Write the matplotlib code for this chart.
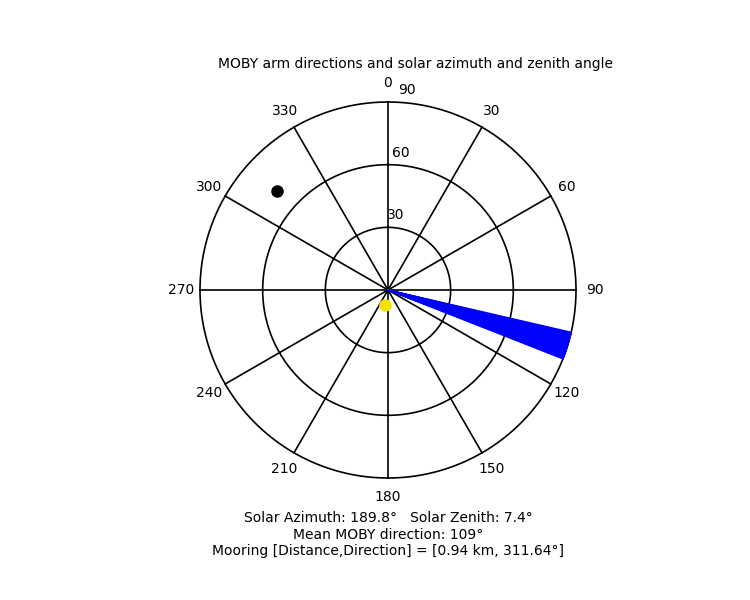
import numpy as np
import matplotlib
matplotlib.use("Agg")
import matplotlib.pyplot as plt

arm_dirs = list(np.arange(103, 111.6, 0.25))
sun_az, sun_zen = 189.8, 7.4
moor_dir, moor_r = 311.64, 71
ring_vals = [30, 60, 90]
spoke_angles = list(range(0, 360, 30))

fig = plt.figure(figsize=(7.5, 6), dpi=100)
cx, cy, R = 388/750, 1-290/600, 188
ax = fig.add_axes([cx-R/750, cy-R/600, 2*R/750, 2*R/600], projection='polar')
ax.set_theta_zero_location('N'); ax.set_theta_direction(-1)
ax.set_ylim(0, 90); ax.grid(False); ax.set_xticks([]); ax.set_yticks([])
ax.spines['polar'].set_visible(False)
th = np.linspace(0, 2*np.pi, 400)
for r in ring_vals:
    ax.plot(th, np.full_like(th, r), color='k', lw=1.2, clip_on=False)
for a in spoke_angles:
    ax.plot([np.deg2rad(a)]*2, [0, 90], color='k', lw=1.2, clip_on=False)
    ax.text(np.deg2rad(a), 99, str(a), ha='center', va='center', fontsize=10)
for r in ring_vals:
    ax.text(np.deg2rad(5.5), r+6, str(r), ha='center', va='center', fontsize=10)
for d in arm_dirs:
    ax.plot([np.deg2rad(d)]*2, [0, 90], color='blue', lw=1, clip_on=False)
ax.plot(np.deg2rad(moor_dir), moor_r, 'o', color='k', ms=8)
ax.plot(np.deg2rad(sun_az), sun_zen, 'o', color='#f5e000', ms=8)
fig.text(415/750, 1-64/600, 'MOBY arm directions and solar azimuth and zenith angle', ha='center', va='center', fontsize=10)
fig.text(388/750, 1-518/600, 'Solar Azimuth: 189.8°   Solar Zenith: 7.4°', ha='center', va='center', fontsize=10)
fig.text(388/750, 1-535/600, 'Mean MOBY direction: 109°', ha='center', va='center', fontsize=10)
fig.text(388/750, 1-551/600, 'Mooring [Distance,Direction] = [0.94 km, 311.64°]', ha='center', va='center', fontsize=10)
fig.savefig('out.png', dpi=100)
